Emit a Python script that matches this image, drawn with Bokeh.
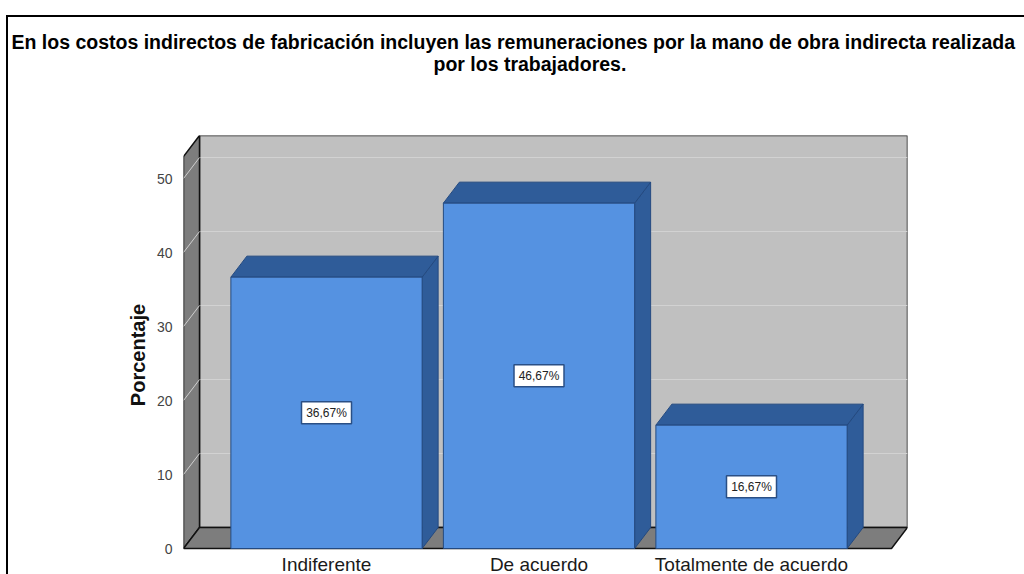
from bokeh.plotting import figure
from bokeh.models import Range1d, FixedTicker, Title, ColumnDataSource, InlineStyleSheet
from bokeh.embed import file_html
from bokeh.resources import INLINE
from bokeh.core.properties import value

# ---------------- data ----------------
title_lines = [
    "En los costos indirectos de fabricación incluyen las remuneraciones por la mano de obra indirecta realizada",
    "por los trabajadores.",
]
categories = ["Indiferente", "De acuerdo", "Totalmente de acuerdo"]
percentages = [36.67, 46.67, 16.67]
value_labels = ["36,67%", "46,67%", "16,67%"]
y_ticks = [0, 10, 20, 30, 40, 50]
y_label = "Porcentaje"

# ---------------- layout (pixels) ----------------
W, H = 1024, 574
frame_left, frame_right = 183, 907
frame_top = 135
zero_px = 548
px_per_unit_y = 7.4
px_per_cat = 212.5
first_center_px = 326
depth_px_x, depth_px_y = 16, 21
bar_width = 0.9
FONT = "Liberation Sans"

x_origin_px = first_center_px - 0.5 * px_per_cat
x_start = (frame_left - x_origin_px) / px_per_cat
x_end = (frame_right - x_origin_px) / px_per_cat
y_start = -(H - zero_px) / px_per_unit_y
y_end = (zero_px - frame_top) / px_per_unit_y
dx = depth_px_x / px_per_cat
dy = depth_px_y / px_per_unit_y

p = figure(width=W, height=H, title=None,
           x_range=Range1d(x_start, x_end), y_range=Range1d(y_start, y_end),
           output_backend="svg", toolbar_location=None, x_axis_location=None,
           min_border_left=frame_left, min_border_right=W - frame_right,
           min_border_top=frame_top, min_border_bottom=0)
p.outline_line_color = None
p.grid.visible = False
p.background_fill_color = "white"
p.border_fill_color = "white"
p.stylesheets = [InlineStyleSheet(css="""
:host::after { content: ""; position: absolute; left: 6px; top: 15px; right: 0; bottom: 0;
  border-left: 2px solid #000; border-top: 2px solid #000; pointer-events: none; z-index: 5; }
""")]

# ---------------- 3D walls ----------------
wall_top = y_end
p.patch([x_start + dx, x_end, x_end, x_start + dx],
        [dy, dy, wall_top, wall_top],
        fill_color="#c0c0c0", line_color="#222222", line_width=1.5)
grid_vals = [t for t in y_ticks if t > 0]
p.segment(x0=[x_start + dx] * len(grid_vals), y0=[t + dy for t in grid_vals],
          x1=[x_end] * len(grid_vals), y1=[t + dy for t in grid_vals],
          line_color="#d2d2d2", line_width=1)
p.patch([x_start, x_start + dx, x_start + dx, x_start],
        [0, dy, wall_top, wall_top - dy],
        fill_color="#7d7d7d", line_color="#111111", line_width=1.5)
p.segment(x0=[x_start] * len(grid_vals), y0=grid_vals,
          x1=[x_start + dx] * len(grid_vals), y1=[t + dy for t in grid_vals],
          line_color="#cfcfcf", line_width=1)
p.patch([x_start, x_end - dx, x_end, x_start + dx],
        [0, 0, dy, dy],
        fill_color="#7d7d7d", line_color="#111111", line_width=1.5)

# ---------------- 3D bars ----------------
centers = [i + 0.5 for i in range(len(categories))]
lefts = [c - bar_width / 2 for c in centers]
rights = [c + bar_width / 2 for c in centers]

front_col = "#5592e1"
dark_col = "#2f5c99"
edge_col = "#244a80"

for l, r, v in zip(lefts, rights, percentages):
    p.patch([r, r + dx, r + dx, r], [0, dy, v + dy, v],
            fill_color=dark_col, line_color=edge_col, line_width=1)
    p.patch([l, r, r + dx, l + dx], [v, v, v + dy, v + dy],
            fill_color=dark_col, line_color=edge_col, line_width=1)

src = ColumnDataSource(dict(left=lefts, right=rights, top=percentages,
                            x=centers, mid=[v / 2 for v in percentages],
                            lab=value_labels, cat=categories))
p.quad(left="left", right="right", top="top", bottom=0, source=src,
       fill_color=front_col, line_color=edge_col, line_width=1)

# value labels in boxes
p.rect(x="x", y="mid", width=50, height=22, width_units="screen", height_units="screen",
       source=src, fill_color="white", line_color="#2a4f85", line_width=1.5)
p.text(x="x", y="mid", text="lab", source=src, text_align="center",
       text_baseline="middle", text_font=value(FONT), text_font_size="12px",
       text_color="#222222")

# category labels
label_y = -(564 - zero_px) / px_per_unit_y
p.text(x="x", y=label_y, text="cat", source=src, text_align="center",
       text_baseline="alphabetic", text_font=value(FONT), text_font_size="19px",
       text_color="#1a1a1a")

# ---------------- y axis ----------------
ax = p.yaxis[0]
ax.ticker = FixedTicker(ticks=y_ticks)
ax.axis_line_color = None
ax.major_tick_line_color = None
ax.minor_tick_line_color = None
ax.major_label_standoff = 5
ax.major_label_text_font = FONT
ax.major_label_text_font_size = "14px"
ax.major_label_text_color = "#444444"
ax.axis_label = y_label
ax.axis_label_text_font = FONT
ax.axis_label_text_font_size = "20px"
ax.axis_label_text_font_style = "bold"
ax.axis_label_text_color = "#111111"
ax.axis_label_standoff = 5

# ---------------- title ----------------
spacer = Title(text=" ", text_font=FONT, text_font_size="44px")
t2 = Title(text=title_lines[1], align="left", offset=250, text_font=FONT,
           text_font_size="19.5px", text_font_style="bold", text_color="black")
t1 = Title(text=title_lines[0], align="left", offset=-172, text_font=FONT,
           text_font_size="19.5px", text_font_style="bold", text_color="black")
try:
    t2.standoff = 0
    t1.standoff = -5
except Exception:
    pass
p.add_layout(spacer, "above")
p.add_layout(t2, "above")
p.add_layout(t1, "above")

open("out.html", "w").write(file_html(p, INLINE))
